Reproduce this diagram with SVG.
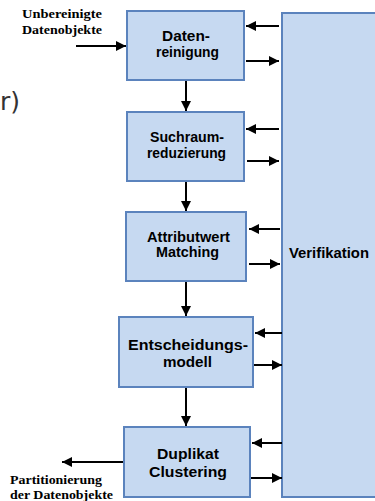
<svg xmlns="http://www.w3.org/2000/svg" width="375" height="501" viewBox="0 0 375 501">
<defs>
<marker id="ah" viewBox="0 0 10 10" refX="10" refY="5" markerUnits="userSpaceOnUse" markerWidth="11" markerHeight="10" orient="auto">
<path d="M0,0 L10,5 L0,10 z" fill="#000"/>
</marker>
<style>
.box{fill:#c6d9f1;stroke:#5b83bd;stroke-width:2}
.lbl{font-family:"Liberation Sans",Arial,sans-serif;font-weight:bold;font-size:14px;fill:#000;text-anchor:middle}
.ser{font-family:"Liberation Serif","Times New Roman",serif;font-weight:bold;font-size:12.5px;fill:#000}
.con line{stroke:#000;stroke-width:2;marker-end:url(#ah)}
</style>
</defs>
<rect width="375" height="501" fill="#fff"/>
<text x="0" y="110" font-family="DejaVu Sans,sans-serif" font-size="25" fill="#333">r)</text>
<g id="verifikation">
<rect class="box" x="282" y="13" width="100" height="484"/>
<text class="lbl" x="329" y="258" textLength="80" lengthAdjust="spacingAndGlyphs">Verifikation</text>
</g>
<g id="datenreinigung">
<rect class="box" x="127" y="11" width="117" height="69"/>
<text class="lbl" x="186" y="41" textLength="48" lengthAdjust="spacingAndGlyphs">Daten-</text>
<text class="lbl" x="187.5" y="57" textLength="63" lengthAdjust="spacingAndGlyphs">reinigung</text>
</g>
<g id="suchraumreduzierung">
<rect class="box" x="127" y="112" width="117" height="69"/>
<text class="lbl" x="187" y="142" textLength="74" lengthAdjust="spacingAndGlyphs">Suchraum-</text>
<text class="lbl" x="186.5" y="158" textLength="79" lengthAdjust="spacingAndGlyphs">reduzierung</text>
</g>
<g id="attributwert">
<rect class="box" x="126" y="212" width="120" height="69"/>
<text class="lbl" x="188.5" y="242" textLength="83" lengthAdjust="spacingAndGlyphs">Attributwert</text>
<text class="lbl" x="187.5" y="257" textLength="63" lengthAdjust="spacingAndGlyphs">Matching</text>
</g>
<g id="entscheidungsmodell">
<rect class="box" x="119" y="317" width="134" height="70"/>
<text class="lbl" x="188" y="350" textLength="120" lengthAdjust="spacingAndGlyphs">Entscheidungs-</text>
<text class="lbl" x="187.5" y="367" textLength="49" lengthAdjust="spacingAndGlyphs">modell</text>
</g>
<g id="duplikat">
<rect class="box" x="124" y="427" width="126" height="70"/>
<text class="lbl" x="188" y="459" textLength="62" lengthAdjust="spacingAndGlyphs">Duplikat</text>
<text class="lbl" x="188" y="477" textLength="78" lengthAdjust="spacingAndGlyphs">Clustering</text>
</g>
<g id="input-label">
<text class="ser" x="22" y="18" textLength="80" lengthAdjust="spacingAndGlyphs">Unbereinigte</text>
<text class="ser" x="22" y="34" textLength="80" lengthAdjust="spacingAndGlyphs">Datenobjekte</text>
</g>
<g id="output-label">
<text class="ser" x="10" y="484" textLength="92" lengthAdjust="spacingAndGlyphs">Partitionierung</text>
<text class="ser" x="10" y="499" textLength="103" lengthAdjust="spacingAndGlyphs">der Datenobjekte</text>
</g>
<g id="connectors" class="con">
<line x1="76" y1="46" x2="126" y2="46"/>
<line x1="186" y1="81" x2="186" y2="111"/>
<line x1="186" y1="182" x2="186" y2="211"/>
<line x1="186" y1="282" x2="186" y2="316"/>
<line x1="186" y1="388" x2="186" y2="426"/>
<line x1="123" y1="462" x2="62" y2="462"/>
<line x1="279" y1="26" x2="246" y2="26"/>
<line x1="246" y1="61" x2="279" y2="61"/>
<line x1="279" y1="129" x2="246" y2="129"/>
<line x1="247" y1="161" x2="279" y2="161"/>
<line x1="280" y1="229" x2="249" y2="229"/>
<line x1="249" y1="264" x2="280" y2="264"/>
<line x1="282" y1="333" x2="255" y2="333"/>
<line x1="254" y1="365" x2="282" y2="365"/>
<line x1="282" y1="443" x2="252" y2="443"/>
<line x1="251" y1="478" x2="282" y2="478"/>
</g>
</svg>
